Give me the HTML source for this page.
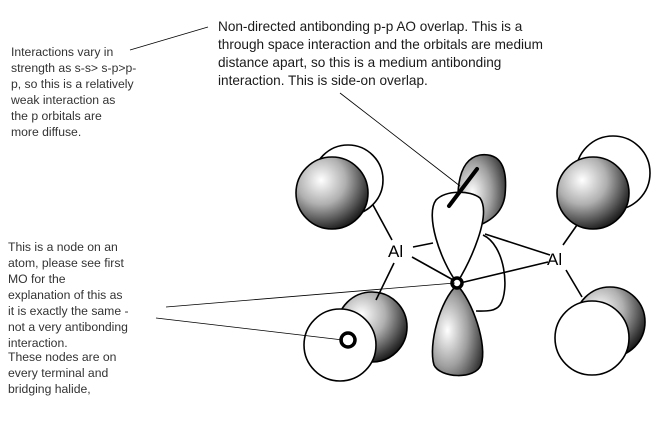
<!DOCTYPE html>
<html><head><meta charset="utf-8"><style>
html,body{margin:0;padding:0;background:#fff;}
svg{display:block;}
text{font-family:"Liberation Sans",sans-serif;}
.t1{font-size:13.6px;fill:#1a1a1a;}
.t2{font-size:12.2px;fill:#333;}
</style></head><body>
<svg width="660" height="427" viewBox="0 0 660 427" xmlns="http://www.w3.org/2000/svg">
<defs>
<radialGradient id="g" cx="0.35" cy="0.32" r="0.75">
<stop offset="0" stop-color="#fff"/><stop offset="0.45" stop-color="#b0b0b0"/><stop offset="0.85" stop-color="#3a3a3a"/><stop offset="1" stop-color="#111"/>
</radialGradient>
<radialGradient id="g2" cx="0.3" cy="0.5" r="0.8">
<stop offset="0" stop-color="#fff"/><stop offset="0.5" stop-color="#a0a0a0"/><stop offset="1" stop-color="#222"/>
</radialGradient>
</defs>
<g stroke="#000" stroke-width="1.6">
<circle cx="348" cy="180" r="35" fill="#fff"/>
<circle cx="332" cy="193" r="36" fill="url(#g)"/>
<circle cx="613" cy="173" r="37" fill="#fff"/>
<circle cx="593" cy="193" r="36" fill="url(#g)"/>
<circle cx="372" cy="327" r="35" fill="url(#g)"/>
<circle cx="340" cy="345" r="36" fill="#fff"/>
<circle cx="610" cy="322" r="35" fill="url(#g)"/>
<circle cx="592" cy="338" r="37" fill="#fff"/>
<path d="M462,230 C455,200 455,160 480,155 C505,152 507,175 505,195 C503,212 490,225 462,230 Z" fill="url(#g2)"/>
<path d="M483,235 C505,245 510,290 500,305 C495,312 485,311 476,311" fill="none"/>
<path d="M457,283 C440,260 425,215 436,200 C446,190 470,190 480,198 C492,215 470,262 457,283 Z" fill="#fff"/>
<path d="M457,285 C440,300 428,345 434,365 C440,378 475,380 481,365 C488,345 472,300 457,285 Z" fill="url(#g2)"/>
<line x1="373" y1="205" x2="392" y2="240"/>
<line x1="394" y1="263" x2="376" y2="300"/>
<line x1="413" y1="247" x2="433" y2="243"/>
<line x1="412" y1="257" x2="455" y2="281"/>
<line x1="485" y1="234" x2="550" y2="255"/>
<line x1="460" y1="283" x2="548" y2="262"/>
<line x1="563" y1="245" x2="577" y2="225"/>
<line x1="566" y1="270" x2="582" y2="297"/>
</g>
<text x="388" y="257" font-size="17" fill="#000">Al</text>
<text x="547" y="265" font-size="17" fill="#000">Al</text>
<circle cx="457" cy="283" r="5" fill="#fff" stroke="#000" stroke-width="3.5"/>
<circle cx="348" cy="340" r="7" fill="#fff" stroke="#000" stroke-width="3.5"/>
<line x1="477" y1="169" x2="449" y2="206" stroke="#000" stroke-width="4" stroke-linecap="round"/>
<g stroke="#000" stroke-width="0.8">
<line x1="130" y1="50" x2="208" y2="27"/>
<line x1="340" y1="93" x2="460" y2="186"/>
<line x1="166" y1="307" x2="455" y2="283"/>
<line x1="156" y1="318" x2="343" y2="340"/>
</g>
<text class="t1"><tspan x="218" y="31">Non-directed antibonding p-p AO overlap. This is a</tspan><tspan x="218" y="49">through space interaction and the orbitals are medium</tspan><tspan x="218" y="67">distance apart, so this is a medium antibonding</tspan><tspan x="218" y="85">interaction. This is side-on overlap.</tspan></text>
<text class="t2"><tspan x="11" y="56">Interactions vary in</tspan><tspan x="11" y="72">strength as s-s&gt; s-p&gt;p-</tspan><tspan x="11" y="88">p, so this is a relatively</tspan><tspan x="11" y="104">weak interaction as</tspan><tspan x="11" y="120">the p orbitals are</tspan><tspan x="11" y="136">more diffuse.</tspan></text>
<text class="t2"><tspan x="8" y="251">This is a node on an</tspan><tspan x="8" y="267">atom, please see first</tspan><tspan x="8" y="283">MO for the</tspan><tspan x="8" y="299">explanation of this as</tspan><tspan x="8" y="315">it is exactly the same -</tspan><tspan x="8" y="331">not a very antibonding</tspan><tspan x="8" y="347">interaction.</tspan><tspan x="8" y="361">These nodes are on</tspan><tspan x="8" y="377">every terminal and</tspan><tspan x="8" y="393">bridging halide,</tspan></text>
</svg>
</body></html>
